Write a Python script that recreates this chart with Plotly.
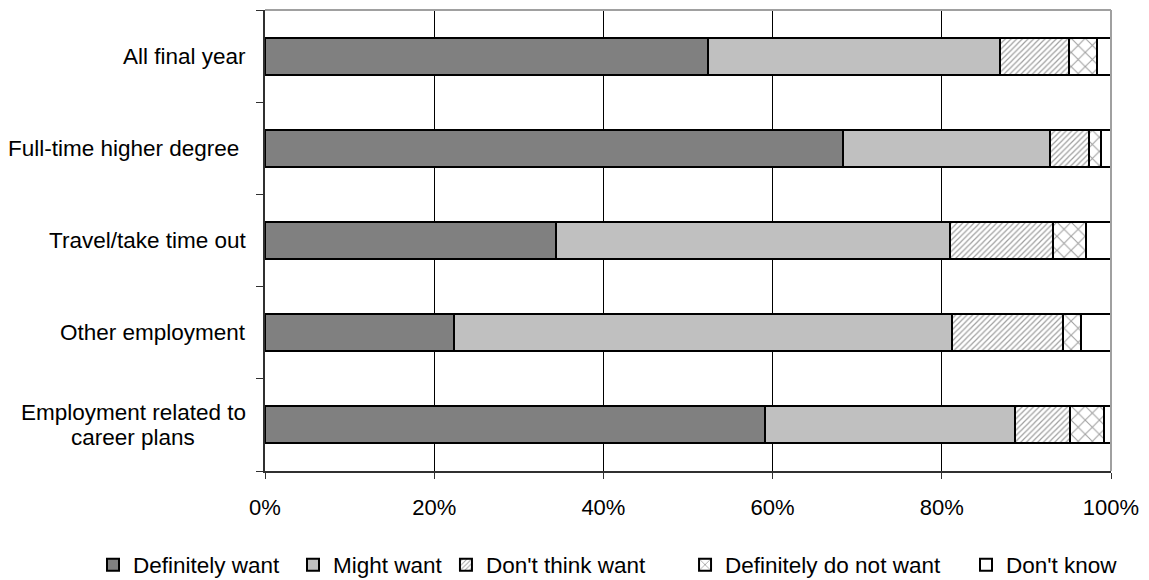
import plotly.graph_objects as go

categories = ["Employment related to<br>career plans", "Other employment",
              "Travel/take time out", "Full-time higher degree ", "All final year"]
definitely_want = [59.1, 22.3, 34.4, 68.3, 52.4]
might_want = [29.5, 58.9, 46.6, 24.5, 34.5]
dont_think_want = [6.6, 13.1, 12.2, 4.6, 8.1]
definitely_not_want = [4.0, 2.2, 3.9, 1.4, 3.3]
dont_know = [0.8, 3.5, 2.9, 1.2, 1.7]
x_ticks = [0, 20, 40, 60, 80, 100]

FONT = "Liberation Sans, Arial, sans-serif"
FS = 22.5

series = [
    ("Definitely want", definitely_want, dict(color="#808080")),
    ("Might want", might_want, dict(color="#C0C0C0")),
    ("Don't think want", dont_think_want,
     dict(color="white", pattern=dict(shape="/", fgcolor="#404040", bgcolor="white", size=4, solidity=0.3))),
    ("Definitely do not want", definitely_not_want,
     dict(color="white", pattern=dict(shape="x", fgcolor="#404040", bgcolor="white", size=10, solidity=0.2))),
    ("Don't know", dont_know, dict(color="white")),
]

# legend entry x positions (paper fraction of plot width)
legend_x = [-0.2033, 0.0331, 0.2139, 0.4965, 0.8286]
legend_names = ["legend", "legend2", "legend3", "legend4", "legend5"]

fig = go.Figure()
for (name, vals, marker), lg in zip(series, legend_names):
    m = dict(marker)
    m["line"] = dict(color="black", width=2)
    fig.add_trace(go.Bar(y=categories, x=vals, name=name, orientation="h",
                         width=0.4, marker=m, legend=lg))

layout_legends = {}
for lg, lx in zip(legend_names, legend_x):
    layout_legends[lg] = dict(orientation="h", x=lx, xanchor="left", y=-0.204, yanchor="middle",
                              font=dict(size=FS, family=FONT), bgcolor="rgba(0,0,0,0)",
                              itemwidth=30)

fig.update_layout(
    barmode="stack",
    width=1141, height=572,
    margin=dict(l=257, r=38, t=2, b=109, autoexpand=False),
    plot_bgcolor="white", paper_bgcolor="white",
    font=dict(family=FONT, size=FS, color="black"),
    showlegend=True,
    **layout_legends,
)
fig.update_xaxes(range=[0, 100], tickvals=x_ticks, ticktext=[f"{v}%" for v in x_ticks],
                 showgrid=True, gridcolor="black", gridwidth=1,
                 showline=True, linecolor="#303030", linewidth=2,
                 ticks="outside", ticklen=6, tickcolor="#303030", zeroline=False,
                 tickfont=dict(size=22), ticklabelstandoff=10)
fig.update_yaxes(categoryorder="array", categoryarray=categories,
                 showticklabels=False, tickson="boundaries", ticks="outside",
                 ticklen=7, tickcolor="#303030", showgrid=False,
                 showline=True, linecolor="#303030", linewidth=2)

# category labels (multi-line labels centred, as in the reference)
for c in categories:
    lines = c.split("<br>")
    n = len(lines)
    for i, line in enumerate(lines):
        shift = ((n - 1) / 2 - i) * 25
        fig.add_annotation(x=0, y=c, xref="paper", yref="y", text=line, showarrow=False,
                           xanchor="right" if n == 1 else "center", yanchor="middle",
                           xshift=-17 if n == 1 else -132, yshift=shift,
                           font=dict(size=FS, family=FONT))

# light grey frame at top and right
fig.add_shape(type="line", xref="paper", yref="paper", x0=0, x1=1, y0=1, y1=1,
              line=dict(color="#A0A0A0", width=2))
fig.add_shape(type="line", xref="paper", yref="paper", x0=1, x1=1, y0=0, y1=1,
              line=dict(color="#A0A0A0", width=2))

fig.write_html("out.html")
